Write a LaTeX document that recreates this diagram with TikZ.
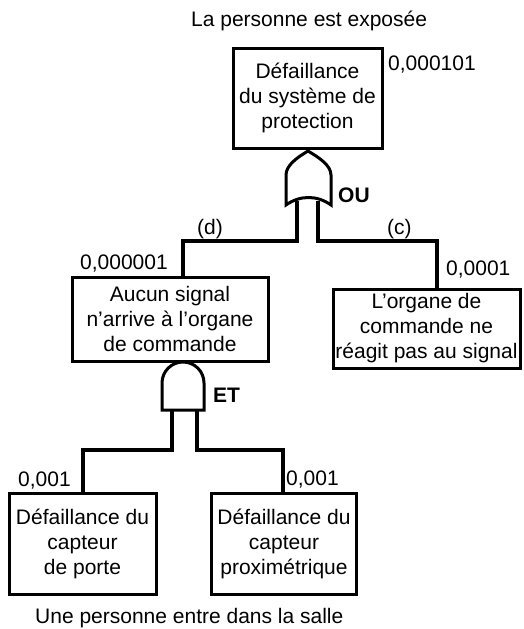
\documentclass[tikz,border=0pt]{standalone}
\usepackage{fontspec}
\setmainfont{Liberation Sans}
\begin{document}
\begin{tikzpicture}[x=1pt,y=-1pt,
  every node/.style={font=\fontsize{21}{25}\selectfont, inner sep=0pt},
  box/.style={draw, line width=3pt, align=center},
  wire/.style={line width=4pt},
  gate/.style={draw, line width=3pt, fill=white, line join=miter},
  lab/.style={anchor=base west},
  glab/.style={anchor=base west, font=\fontsize{21}{25}\selectfont\bfseries}]
\useasboundingbox (0,0) rectangle (523,629);

% boxes
\node[box, minimum width=149pt, minimum height=100pt] (top) at (307.5,98) {Défaillance\\du système de\\protection};
\node[box, minimum width=196pt, minimum height=84pt] (mid) at (170,319) {Aucun signal\\n’arrive à l’organe\\de commande};
\node[box, minimum width=187pt, minimum height=79pt] (rgt) at (426.5,328.5) {L’organe de\\commande ne\\réagit pas au signal};
\node[box, minimum width=147pt, minimum height=101pt] (bl) at (82.5,544) {Défaillance du\\capteur\\de porte};
\node[box, minimum width=145pt, minimum height=101pt] (br) at (284,543.5) {Défaillance du\\capteur\\proximétrique};

% gate points
\coordinate (orL) at (297,201);
\coordinate (orR) at (318,201);
\coordinate (dJ) at (183,241);
\coordinate (cJ) at (437,241);
\coordinate (andL) at (172,409);
\coordinate (andR) at (197,409);
\coordinate (aJ) at (83,450);
\coordinate (bJ) at (283,450);

% connectors
\draw[wire] (orL) |- (dJ) -- (dJ |- mid.north);
\draw[wire] (orR) |- (cJ) -- (cJ |- rgt.north);
\draw[wire] (andL) |- (aJ) -- (aJ |- bl.north);
\draw[wire] (andR) |- (bJ) -- (bJ |- br.north);

% OR gate
\draw[gate] (286,205) -- (286,175) .. controls (286,165) and (298,157) .. (308,151)
  .. controls (318,157) and (331,165) .. (331,175) -- (331,205)
  .. controls (317,195) and (300,195) .. (286,205) -- cycle;
% AND gate
\draw[gate] (162,410) -- (162,383) .. controls (162,371.4) and (171.4,362) .. (183,362)
  .. controls (194.6,362) and (204,371.4) .. (204,383) -- (204,410) -- cycle;

% labels
\node[lab] (title) at (191,27) {La personne est exposée};
\node[lab] (ptop) at (388,70) {0,000101};
\node[glab] (ou) at (338,202) {OU};
\node[lab] (d) at (197,234) {(d)};
\node[lab] (c) at (387,234) {(c)};
\node[lab] (pmid) at (80,269) {0,000001};
\node[lab] (prgt) at (446,275) {0,0001};
\node[glab] (et) at (213,402) {ET};
\node[lab] (pbl) at (18,486) {0,001};
\node[lab] (pbr) at (286,485) {0,001};
\node[lab] (bottom) at (35,623) {Une personne entre dans la salle};
\end{tikzpicture}
\end{document}
